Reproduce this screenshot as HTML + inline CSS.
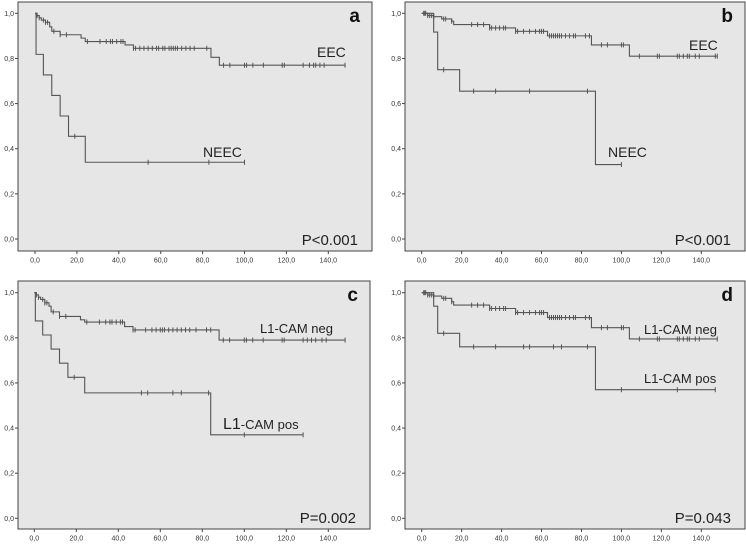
<!DOCTYPE html>
<html><head><meta charset="utf-8"><style>
html,body{margin:0;padding:0;background:#fff;}
svg{display:block;font-family:"Liberation Sans",Arial,sans-serif;}
</style></head><body>
<svg id="chart" width="746" height="544" viewBox="0 0 746 544"></svg>
<script>
// ---- data (time in months, survival proportion) ----
const xTicks = [0,20,40,60,80,100,120,140];
const xTickLabels = ["0,0","20,0","40,0","60,0","80,0","100,0","120,0","140,0"];
const yTicks = [0,0.2,0.4,0.6,0.8,1.0];
const yTickLabels = ["0,0","0,2","0,4","0,6","0,8","1,0"];

const aEecTimes = [0,1,2,3,5,7,8,12,22,24,43,47,84,88];
const aEecSurv  = [1,0.99,0.98,0.97,0.96,0.94,0.92,0.905,0.89,0.875,0.86,0.845,0.805,0.77];
const aEecEnd = 148;
const aEecCens = [1,2,4,5,6,9,12,15,25,31,34,36,37,39,41,42,47,48,50,52,54,56,58,59,61,62,64,65,66,67,68,70,72,74,76,82,90,93,100,101,104,109,118,119,128,131,133,134,136,138,148];
const aNeecTimes = [0,0.5,4,8,12,16,24];
const aNeecSurv  = [1,0.818,0.727,0.636,0.545,0.455,0.34];
const aNeecEnd = 100;
const aNeecCens = [19,54,83,100];

const bEecTimes = [0,3,6,10,15,16,34,47,63,85,104];
const bEecSurv  = [1,0.99,0.985,0.975,0.965,0.95,0.935,0.92,0.9,0.86,0.81];
const bEecEnd = 148;
const bEecCens = [1,1.5,2,3,4,5,6,11,12,15,25,28,31,34,35,37,39,41,42,47,48,51,54,57,59,60,61,64,65,66,67,68,69,70,72,74,76,77,82,84,90,93,100,101,109,118,119,128,129,131,133,134,137,139,147,148];
const bNeecTimes = [0,6,8,19,87];
const bNeecSurv  = [1,0.917,0.75,0.655,0.33];
const bNeecEnd = 100;
const bNeecCens = [11,26,37,54,83,100];

const cNegTimes = [0,1,2,3,5,7,8,12,22,24,43,47,88];
const cNegSurv  = [1,0.99,0.98,0.97,0.955,0.94,0.915,0.895,0.88,0.87,0.85,0.835,0.79];
const cNegEnd = 148;
const cNegCens = [1,2,4,5,6,9,12,15,25,31,34,36,37,39,41,42,47,48,53,56,58,60,61,62,64,66,68,70,72,74,77,82,84,90,93,100,101,104,109,118,119,128,130,132,134,137,139,148];
const cPosTimes = [0,0.5,4,8,12,16,24,84];
const cPosSurv  = [1,0.875,0.8125,0.75,0.6875,0.625,0.556,0.37];
const cPosEnd = 128;
const cPosCens = [19,51,54,66,70,83,100,128];

const dNegTimes = [0,3,6,10,15,16,34,47,63,85,104];
const dNegSurv  = [1,0.99,0.985,0.975,0.96,0.945,0.93,0.912,0.89,0.845,0.795];
const dNegEnd = 148;
const dNegCens = [1,1.5,2,3,4,5,6,11,12,15,25,28,31,34,35,37,39,41,42,47,48,51,54,57,59,60,61,64,65,66,67,68,69,70,72,74,76,77,82,84,90,93,100,101,109,118,119,128,129,131,133,134,137,139,148];
const dPosTimes = [0,6,8,19,87];
const dPosSurv  = [1,0.94,0.82,0.76,0.57];
const dPosEnd = 147;
const dPosCens = [11,26,37,51,54,66,70,83,100,128,147];

const NS = "http://www.w3.org/2000/svg";
const svg = document.getElementById("chart");
function mk(tag, attrs, parent){
  const e = document.createElementNS(NS, tag);
  for (const k in attrs) e.setAttribute(k, attrs[k]);
  (parent||svg).appendChild(e);
  return e;
}

const panels = [
  {id:"a", L:18, T:2, R:372, B:251, x0:35, x140:328.3, y0:239, y1:13.3,
   series:[[aEecTimes,aEecSurv,aEecEnd,aEecCens,"eec"],[aNeecTimes,aNeecSurv,aNeecEnd,aNeecCens,"neec"]],
   labels:[["EEC",317,57,14,"eec-label"],["NEEC",203,157,14,"neec-label"]], p:"P<0.001"},
  {id:"b", L:405, T:2, R:745, B:251, x0:421.7, x140:701.3, y0:239, y1:13.3,
   series:[[bEecTimes,bEecSurv,bEecEnd,bEecCens,"eec"],[bNeecTimes,bNeecSurv,bNeecEnd,bNeecCens,"neec"]],
   labels:[["EEC",689,50,14,"eec-label"],["NEEC",608,157,14,"neec-label"]], p:"P<0.001"},
  {id:"c", L:18, T:281, R:370, B:529, x0:34.3, x140:328.3, y0:518.3, y1:292.7,
   series:[[cNegTimes,cNegSurv,cNegEnd,cNegCens,"l1cam-neg"],[cPosTimes,cPosSurv,cPosEnd,cPosCens,"l1cam-pos"]],
   labels:[["L1-CAM neg",260,333,13,"l1cam-neg-label"],["L1-CAM pos",223,429,13,"l1cam-pos-label"]], p:"P=0.002"},
  {id:"d", L:405, T:281, R:745, B:529, x0:421.7, x140:701.3, y0:518.3, y1:292.7,
   series:[[dNegTimes,dNegSurv,dNegEnd,dNegCens,"l1cam-neg"],[dPosTimes,dPosSurv,dPosEnd,dPosCens,"l1cam-pos"]],
   labels:[["L1-CAM neg",644,334,13,"l1cam-neg-label"],["L1-CAM pos",644,383,13,"l1cam-pos-label"]], p:"P=0.043"}
];

function survAt(times, surv, t){
  let v = surv[0];
  for (let i=0;i<times.length;i++){ if (times[i] <= t) v = surv[i]; }
  return v;
}

panels.forEach(p=>{
  const g = mk("g",{});
  
  
  const xs = t => p.x0 + (p.x140 - p.x0) * t / 140;
  const ys = v => p.y0 + (p.y1 - p.y0) * v;
  const bg = mk("rect",{x:p.L,y:p.T,width:p.R-p.L,height:p.B-p.T,fill:"#e6e6e6",stroke:"#444","stroke-width":1},g);
  
  
  yTicks.forEach((v,i)=>{
    const y = ys(v);
    mk("line",{x1:p.L-3,x2:p.L,y1:y,y2:y,stroke:"#444","stroke-width":1},g);
    const t = mk("text",{x:p.L-4,y:y+2.5,"font-size":7,"text-anchor":"end",fill:"#333"},g);
    t.textContent = yTickLabels[i];
    
    
  });
  xTicks.forEach((v,i)=>{
    const x = xs(v);
    mk("line",{x1:x,x2:x,y1:p.B,y2:p.B+3,stroke:"#444","stroke-width":1},g);
    const t = mk("text",{x:x,y:p.B+11.5,"font-size":7,"text-anchor":"middle",fill:"#333"},g);
    t.textContent = xTickLabels[i];
    
    
  });
  p.series.forEach(s=>{
    const [times, surv, end, cens, nm] = s;
    let d = "M"+xs(times[0])+","+ys(surv[0]);
    for (let i=1;i<times.length;i++){
      d += " H"+xs(times[i])+" V"+ys(surv[i]);
    }
    d += " H"+xs(end);
    const path = mk("path",{d:d,fill:"none",stroke:"#555","stroke-width":1.1},g);
    
    
    cens.forEach(c=>{
      const x = xs(c), y = ys(survAt(times,surv,c));
      const m = mk("line",{x1:x,x2:x,y1:y-2.5,y2:y+2.5,stroke:"#555","stroke-width":1},g);
      
      
    });
  });
  p.labels.forEach(l=>{
    const t = mk("text",{x:l[1],y:l[2],"font-size":l[3],fill:"#222"},g);
    if (p.id==="c" && l[4]==="l1cam-pos-label"){
      const a = mk("tspan",{"font-size":16},t); a.textContent="L1";
      const b = mk("tspan",{},t); b.textContent="-CAM pos";
    } else t.textContent = l[0];
    
    
  });
  const pl = mk("text",{x:p.R-14,y:p.B-6,"font-size":15,"text-anchor":"end",fill:"#222"},g);
  pl.textContent = p.p;
  
  
  const lt = mk("text",{x:p.R-12,y:p.T+20,"font-size":19,"font-weight":"bold","text-anchor":"end",fill:"#111"},g);
  lt.textContent = p.id;
  
  
});
</script>
</body></html>
